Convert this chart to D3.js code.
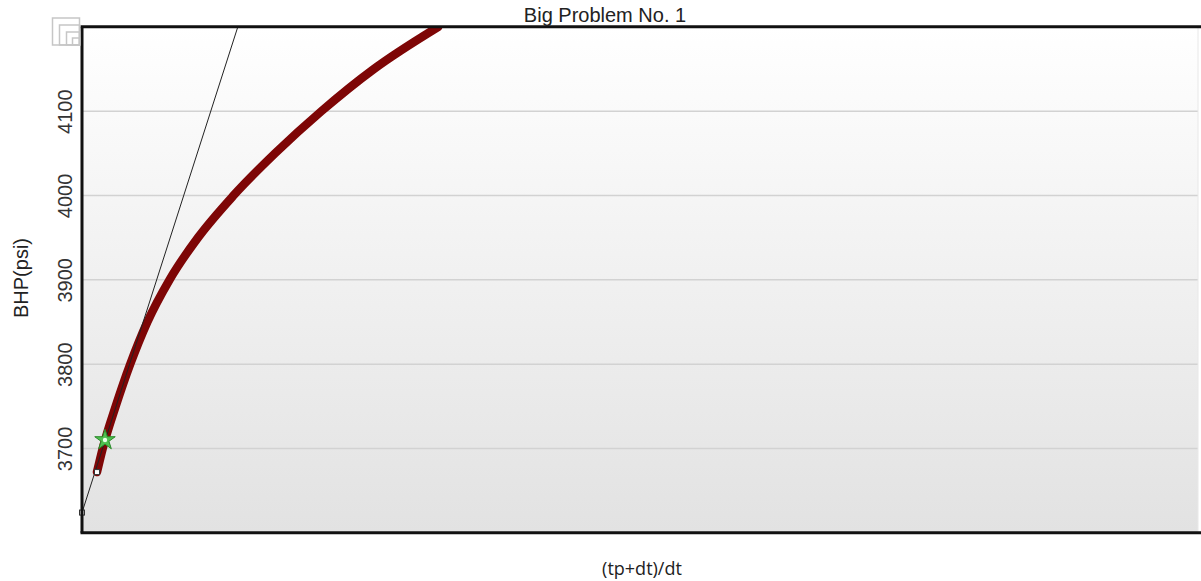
<!DOCTYPE html>
<html>
<head>
<meta charset="utf-8">
<script src="https://cdn.jsdelivr.net/npm/d3@7"></script>
<style>
  html, body { margin: 0; padding: 0; background: #ffffff; }
  svg { display: block; }
</style>
</head>
<body>
<svg id="chart" width="1201" height="581"></svg>
<script>
// Horner plot: shut-in bottom-hole pressure vs Horner time ratio
const hornerTime = [3.76, 5.20, 8.45, 12.10, 16.40, 21.96, 29.10, 38.03,
                    48.45, 60.08, 73.24, 89.40];
const bhp = [3672, 3700, 3750, 3800, 3850, 3900, 3950, 4000,
             4050, 4100, 4150, 4200];

// Semi-log straight-line fit and its two handles
const fitX = [0, 39.1];
const fitY = [3624, 4200];
const handleX = [0, 3.76];
const handleY = [3624, 3672];

// Selected point
const pickX = [5.77];
const pickY = [3710];

const yTicks = [3700, 3800, 3900, 4000, 4100];
const xDomain = [0, 280];
const yDomain = [3600, 4200];

const svg = d3.select("#chart");
const plotLeft = 82, plotRight = 1198, plotTop = 26.8, plotBottom = 532.8;

const x = d3.scaleLinear().domain(xDomain).range([plotLeft, plotRight]);
const y = d3.scaleLinear().domain(yDomain).range([plotBottom, plotTop]);

const defs = svg.append("defs");
const grad = defs.append("linearGradient")
  .attr("id", "bg").attr("x1", 0).attr("y1", 0).attr("x2", 0).attr("y2", 1);
grad.append("stop").attr("offset", "0%").attr("stop-color", "#ffffff");
grad.append("stop").attr("offset", "100%").attr("stop-color", "#e2e2e2");

defs.append("clipPath").attr("id", "plotClip")
  .append("rect").attr("x", plotLeft).attr("y", plotTop)
  .attr("width", plotRight - plotLeft).attr("height", plotBottom - plotTop);

// plot background
svg.append("rect")
  .attr("x", plotLeft).attr("y", plotTop)
  .attr("width", plotRight - plotLeft).attr("height", plotBottom - plotTop)
  .attr("fill", "url(#bg)");

// horizontal grid
svg.append("g")
  .selectAll("line").data(yTicks).join("line")
  .attr("x1", plotLeft).attr("x2", plotRight)
  .attr("y1", d => y(d)).attr("y2", d => y(d))
  .attr("stroke", "#d2d2d2").attr("stroke-width", 1.5);

// faint right edge
svg.append("line")
  .attr("x1", plotRight).attr("x2", plotRight).attr("y1", plotTop).attr("y2", plotBottom)
  .attr("stroke", "#e8e8e8").attr("stroke-width", 1);

// y axis tick labels (rotated)
const yAxis = d3.axisLeft(y).tickValues(yTicks).tickFormat(d3.format("d"))
  .tickSize(0).tickPadding(0);
const yg = svg.append("g").attr("transform", `translate(${plotLeft},0)`).call(yAxis);
yg.select(".domain").remove();
yg.selectAll(".tick text")
  .attr("x", 0).attr("dy", null)
  .attr("transform", "translate(-10.5,0) rotate(-90)")
  .attr("text-anchor", "middle")
  .style("font-family", "'Liberation Sans', Arial, sans-serif")
  .style("font-size", "20px")
  .attr("fill", "#333333");

const plot = svg.append("g").attr("clip-path", "url(#plotClip)");

// data curve
const curve = d3.line()
  .x((d, i) => x(hornerTime[i]))
  .y((d, i) => y(bhp[i]))
  .curve(d3.curveMonotoneX);
plot.append("path")
  .attr("d", curve(bhp))
  .attr("fill", "none")
  .attr("stroke", "#7e0606")
  .attr("stroke-width", 8.5)
  .attr("stroke-linecap", "round")
  .attr("stroke-linejoin", "round");

// fitted straight line
plot.append("line")
  .attr("x1", x(fitX[0])).attr("y1", y(fitY[0]))
  .attr("x2", x(fitX[1])).attr("y2", y(fitY[1]))
  .attr("stroke", "#222222").attr("stroke-width", 1);

// line handles
svg.append("g").selectAll("rect").data(handleX).join("rect")
  .attr("x", d => x(d) - 2.5).attr("y", (d, i) => y(handleY[i]) - 2.5)
  .attr("width", 5).attr("height", 5)
  .attr("fill", "#ffffff").attr("stroke", "#333333").attr("stroke-width", 1);

// selected point marker
const pick = svg.append("g")
  .attr("transform", `translate(${x(pickX[0])},${y(pickY[0])})`);
pick.append("path")
  .attr("d", d3.symbol().type(d3.symbolStar).size(130)())
  .attr("fill", "#4fbf4f").attr("stroke", "#2a8a2a").attr("stroke-width", 1);
pick.append("circle").attr("r", 2.2).attr("fill", "#e8ffe8");

// frame: thick top, bottom and left borders
const frame = svg.append("g").attr("stroke", "#111111").attr("stroke-width", 3);
frame.append("line").attr("x1", plotLeft - 1.5).attr("x2", 1201).attr("y1", plotTop).attr("y2", plotTop);
frame.append("line").attr("x1", plotLeft - 1.5).attr("x2", 1201).attr("y1", plotBottom).attr("y2", plotBottom);
frame.append("line").attr("x1", plotLeft).attr("x2", plotLeft).attr("y1", plotTop).attr("y2", plotBottom);

// corner icon
const icon = svg.append("g").attr("fill", "none").attr("stroke", "#c6c6c6").attr("stroke-width", 1.5);
[27, 20, 13, 7].forEach(s => {
  icon.append("rect").attr("x", 79.5 - s).attr("y", 45 - s).attr("width", s).attr("height", s);
});

// titles
svg.append("text")
  .attr("x", 605).attr("y", 22)
  .attr("text-anchor", "middle")
  .style("font-family", "'Liberation Sans', Arial, sans-serif")
  .style("font-size", "20px")
  .attr("fill", "#222222")
  .text("Big Problem No. 1");

svg.append("text")
  .attr("transform", "translate(28,278) rotate(-90)")
  .attr("text-anchor", "middle")
  .style("font-family", "'Liberation Sans', Arial, sans-serif")
  .style("font-size", "20px")
  .attr("fill", "#222222")
  .text("BHP(psi)");

svg.append("text")
  .attr("x", 642).attr("y", 575)
  .attr("text-anchor", "middle")
  .style("font-family", "'Open Sans', sans-serif")
  .style("font-size", "18px")
  .attr("fill", "#222222")
  .text("(tp+dt)/dt");
</script>
</body>
</html>
